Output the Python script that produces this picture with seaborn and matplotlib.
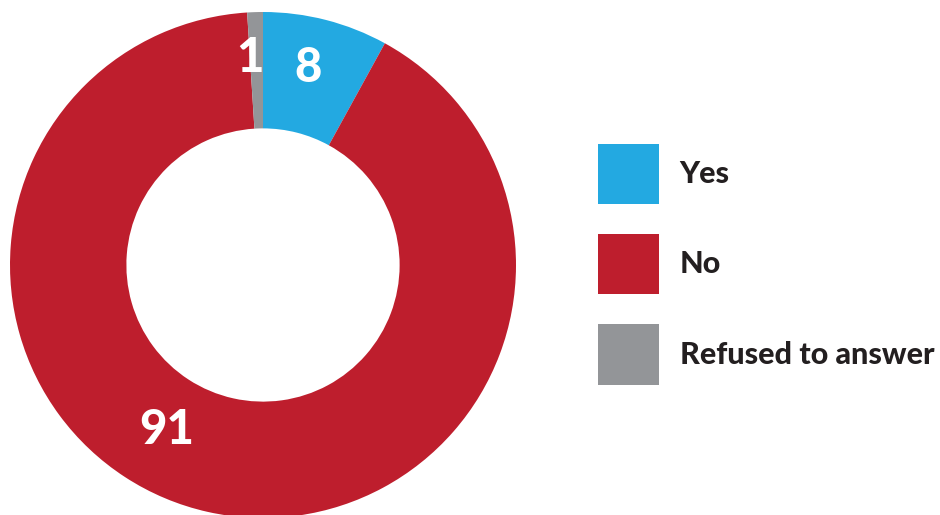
import numpy as np
import matplotlib
matplotlib.use("Agg")
import matplotlib.pyplot as plt
import matplotlib.patches as mpatches
import seaborn as sns

# Survey answers (percent)
categories = ["Yes", "No", "Refused to answer"]
values = [8, 91, 1]
colors = ["#23A9E1", "#BE1E2D", "#939598"]

sns.set_theme(style="white")
plt.rcParams["font.family"] = ["Lato", "DejaVu Sans"]

W, H = 940, 515
fig = plt.figure(figsize=(W / 100, H / 100), dpi=100)
fig.patch.set_facecolor("white")

# donut axes: centre and outer radius in pixels
cx, cy, R = 263, 265, 253
ax = fig.add_axes([(cx - R) / W, (H - cy - R) / H, 2 * R / W, 2 * R / H])

wedges, _ = ax.pie(
    values,
    colors=colors,
    startangle=90,
    counterclock=False,
    radius=1.0,
    wedgeprops=dict(width=0.46, edgecolor="none", linewidth=0),
)
ax.set_xlim(-1, 1)
ax.set_ylim(-1, 1)
ax.set_aspect("equal")
ax.axis("off")

# value labels: (angle clockwise from 12 o'clock in degrees, radius)
label_pos = [(12.9, 0.80), (210.2, 0.755), (-3.6, 0.82)]
for v, (ang, r) in zip(values, label_pos):
    t = np.deg2rad(ang)
    ax.text(r * np.sin(t), r * np.cos(t), f"{v}", color="white",
            fontsize=34, fontweight="black", ha="center", va="center")

handles = [mpatches.Patch(facecolor=c, edgecolor="none") for c in colors]
leg = fig.legend(
    handles, categories,
    loc="upper left", bbox_to_anchor=(598 / W, 1 - 144 / H),
    frameon=False, prop=dict(weight="black", size=22),
    handlelength=2.0, handleheight=2.655, labelspacing=0.98,
    handletextpad=0.67, borderpad=0, borderaxespad=0,
)
for txt in leg.get_texts():
    txt.set_color("#231F20")

fig.savefig("out.png", dpi=100, facecolor="white")
